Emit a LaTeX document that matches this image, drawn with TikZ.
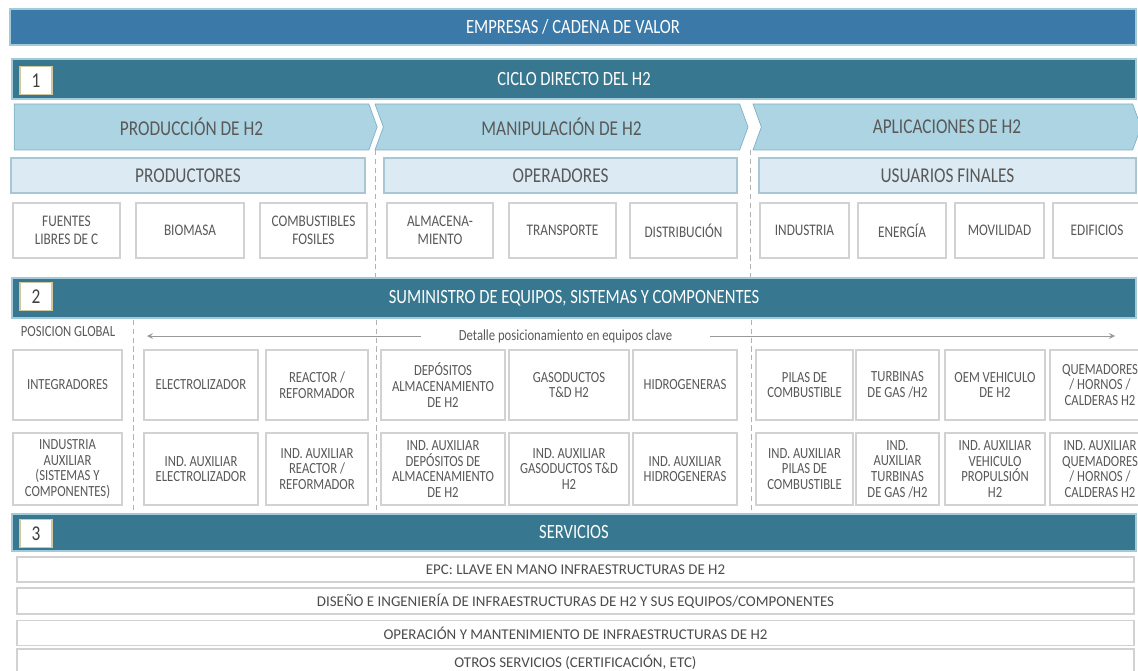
\documentclass[tikz,border=0pt]{standalone}
\usepackage{fontspec}
\setmainfont{Carlito}[FakeStretch=0.82]
\newfontfamily\servfont{Carlito}
\usetikzlibrary{shapes.symbols}

\definecolor{cadenablue}{HTML}{3B79A8}
\definecolor{secteal}{HTML}{37778F}
\definecolor{barline}{HTML}{A3CADB}
\definecolor{phasefill}{HTML}{ACD4E2}
\definecolor{phaseline}{HTML}{7FB1C4}
\definecolor{groupfill}{HTML}{DCEAF3}
\definecolor{groupline}{HTML}{A9C6D6}
\definecolor{boxline}{HTML}{D2D2D2}
\definecolor{textgrey}{HTML}{595959}
\definecolor{numline}{HTML}{CFC8A0}

\begin{document}
\begin{tikzpicture}[
    topbar/.style={rectangle, draw=barline, fill=cadenablue, line width=0.8pt, minimum width=22.52cm, minimum height=0.72cm, text=white, font=\fontsize{11.5}{13}\selectfont},
    secbar/.style={rectangle, draw=barline, fill=secteal, line width=0.8pt, minimum width=22.48cm, minimum height=0.8cm, text=white, font=\fontsize{11.5}{13}\selectfont},
    number/.style={rectangle, draw=numline, fill=white, line width=1pt, minimum width=0.64cm, minimum height=0.56cm, text=black!75, font=\fontsize{12}{13}\selectfont},
    phase/.style={signal, signal to=east, signal pointer angle=140, draw=phaseline, fill=phasefill, minimum height=0.92cm, inner sep=0pt, text=textgrey, font=\fontsize{12}{13}\selectfont},
    group/.style={rectangle, draw=groupline, fill=groupfill, line width=0.8pt, minimum height=0.7cm, text=textgrey, font=\fontsize{12}{13}\selectfont},
    item/.style={rectangle, draw=boxline, fill=white, line width=0.8pt, align=center, inner sep=1pt, text=textgrey, font=\fontsize{9.2}{10}\selectfont},
    equipo/.style={item, minimum height=1.4cm, font=\fontsize{8.8}{8.9}\selectfont},
    service/.style={rectangle, draw=boxline, fill=white, line width=0.8pt, minimum width=22.34cm, minimum height=0.5cm, text=black!70, font=\servfont\fontsize{8.5}{9}\selectfont},
    divider/.style={draw=black!30, densely dashed, line width=0.5pt},
    arrow/.style={->, >=stealth, draw=black!40, line width=0.5pt},
    label/.style={text=textgrey, font=\fontsize{8.8}{9}\selectfont}
]
\useasboundingbox (0,0) rectangle (22.76,-13.4);

% Cadena de valor
\node[topbar] (cadena) at (11.46,-0.54) {EMPRESAS / CADENA DE VALOR};

% 1: Ciclo directo del H2
\node[secbar] (ciclo) at (11.48,-1.58) {CICLO DIRECTO DEL H2};
\node[number] (num1) at (0.72,-1.61) {1};

\node[phase, signal from=nowhere, minimum width=7.26cm] (produccion) at (3.83,-2.54) {PRODUCCIÓN DE H2};
\node[phase, signal from=west, minimum width=7.46cm] (manipulacion) at (11.23,-2.54) {MANIPULACIÓN DE H2};
\node[phase, signal from=west, minimum width=7.76cm] (aplicaciones) at (18.94,-2.54) {APLICACIONES DE H2};

\node[group, minimum width=7.08cm] (productores) at (3.76,-3.51) {PRODUCTORES};
\node[group, minimum width=7.06cm] (operadores) at (11.21,-3.51) {OPERADORES};
\node[group, minimum width=7.54cm] (usuarios) at (18.95,-3.51) {USUARIOS FINALES};

\node[item, minimum width=2.14cm, minimum height=1.1cm] (fuentes) at (1.33,-4.61) {FUENTES\\LIBRES DE C};
\node[item, minimum width=2.16cm, minimum height=1.1cm] (biomasa) at (3.80,-4.61) {BIOMASA};
\node[item, minimum width=2.14cm, minimum height=1.1cm] (fosiles) at (6.27,-4.61) {COMBUSTIBLES\\FOSILES};
\node[item, minimum width=2.12cm, minimum height=1.1cm] (almacen) at (8.80,-4.61) {ALMACENA-\\MIENTO};
\node[item, minimum width=2.14cm, minimum height=1.1cm] (transporte) at (11.25,-4.61) {TRANSPORTE};
\node[item, minimum width=2.14cm, minimum height=1.1cm] (distribucion) at (13.67,-4.61) {DISTRIBUCIÓN};
\node[item, minimum width=1.78cm, minimum height=1.1cm] (industria) at (16.09,-4.61) {INDUSTRIA};
\node[item, minimum width=1.76cm, minimum height=1.1cm] (energia) at (18.04,-4.61) {ENERGÍA};
\node[item, minimum width=1.78cm, minimum height=1.1cm] (movilidad) at (19.99,-4.61) {MOVILIDAD};
\node[item, minimum width=1.76cm, minimum height=1.1cm] (edificios) at (21.94,-4.61) {EDIFICIOS};

\draw[divider] (7.5,-3.0) -- (7.5,-5.54);
\draw[divider] (15.0,-3.0) -- (15.0,-5.54);

% 2: Suministro de equipos
\node[secbar] (suministro) at (11.48,-5.96) {SUMINISTRO DE EQUIPOS, SISTEMAS Y COMPONENTES};
\node[number] (num2) at (0.72,-5.93) {2};

\node[label] (global) at (1.36,-6.64) {POSICION GLOBAL};
\node[label, inner xsep=0.75cm] (detalle) at (11.31,-6.72) {Detalle posicionamiento en equipos clave};
\coordinate (izq) at (2.94,-6.72);
\coordinate (der) at (22.3,-6.72);
\draw[arrow] (detalle) -- (izq);
\draw[arrow] (detalle) -- (der);

\node[equipo, minimum width=2.18cm] (integradores) at (1.35,-7.70) {INTEGRADORES};
\node[equipo, minimum width=2.28cm] (electrolizador) at (4.02,-7.70) {ELECTROLIZADOR};
\node[equipo, minimum width=2.04cm] (reactor) at (6.34,-7.70) {REACTOR /\\REFORMADOR};
\node[equipo, minimum width=2.48cm] (depositos) at (8.86,-7.70) {DEPÓSITOS\\ALMACENAMIENTO\\DE H2};
\node[equipo, minimum width=2.40cm] (gasoductos) at (11.38,-7.70) {GASODUCTOS\\T\&D H2};
\node[equipo, minimum width=2.08cm] (hidrogeneras) at (13.70,-7.70) {HIDROGENERAS};
\node[equipo, minimum width=1.94cm] (pilas) at (16.09,-7.70) {PILAS DE\\COMBUSTIBLE};
\node[equipo, minimum width=1.66cm] (turbinas) at (17.95,-7.70) {TURBINAS\\DE GAS /H2};
\node[equipo, minimum width=2.00cm] (oem) at (19.90,-7.70) {OEM VEHICULO\\DE H2};
\node[equipo, minimum width=2.00cm] (quemadores) at (22.00,-7.70) {QUEMADORES\\/ HORNOS /\\CALDERAS H2};

\node[equipo, minimum width=2.18cm, minimum height=1.44cm] (auxiliar) at (1.35,-9.38) {INDUSTRIA\\AUXILIAR\\(SISTEMAS Y\\COMPONENTES)};
\node[equipo, minimum width=2.28cm, minimum height=1.44cm] (auxelectro) at (4.02,-9.38) {IND. AUXILIAR\\ELECTROLIZADOR};
\node[equipo, minimum width=2.04cm, minimum height=1.44cm] (auxreactor) at (6.34,-9.38) {IND. AUXILIAR\\REACTOR /\\REFORMADOR};
\node[equipo, minimum width=2.48cm, minimum height=1.44cm] (auxdepositos) at (8.86,-9.38) {IND. AUXILIAR\\DEPÓSITOS DE\\ALMACENAMIENTO\\DE H2};
\node[equipo, minimum width=2.40cm, minimum height=1.44cm] (auxgasoductos) at (11.38,-9.38) {IND. AUXILIAR\\GASODUCTOS T\&D\\H2};
\node[equipo, minimum width=2.08cm, minimum height=1.44cm] (auxhidro) at (13.70,-9.38) {IND. AUXILIAR\\HIDROGENERAS};
\node[equipo, minimum width=1.94cm, minimum height=1.44cm] (auxpilas) at (16.09,-9.38) {IND. AUXILIAR\\PILAS DE\\COMBUSTIBLE};
\node[equipo, minimum width=1.66cm, minimum height=1.44cm] (auxturbinas) at (17.95,-9.38) {IND.\\AUXILIAR\\TURBINAS\\DE GAS /H2};
\node[equipo, minimum width=2.00cm, minimum height=1.44cm] (auxvehiculo) at (19.90,-9.38) {IND. AUXILIAR\\VEHICULO\\PROPULSIÓN\\H2};
\node[equipo, minimum width=2.00cm, minimum height=1.44cm] (auxquemadores) at (22.00,-9.38) {IND. AUXILIAR\\QUEMADORES\\/ HORNOS /\\CALDERAS H2};

\draw[divider] (2.66,-6.40) -- (2.66,-10.2);
\draw[divider] (7.52,-6.40) -- (7.52,-10.2);
\draw[divider] (15.02,-6.40) -- (15.02,-10.2);

% 3: Servicios
\node[secbar, minimum height=0.74cm] (servicios) at (11.48,-10.65) {SERVICIOS};
\node[number] (num3) at (0.72,-10.67) {3};

\node[service] (epc) at (11.51,-11.39) {EPC: LLAVE EN MANO INFRAESTRUCTURAS DE H2};
\node[service] (diseno) at (11.51,-12.02) {DISEÑO E INGENIERÍA DE INFRAESTRUCTURAS DE H2 Y SUS EQUIPOS/COMPONENTES};
\node[service] (operacion) at (11.51,-12.66) {OPERACIÓN Y MANTENIMIENTO DE INFRAESTRUCTURAS DE H2};
\node[service] (otros) at (11.51,-13.24) {OTROS SERVICIOS (CERTIFICACIÓN, ETC)};

\end{tikzpicture}
\end{document}
